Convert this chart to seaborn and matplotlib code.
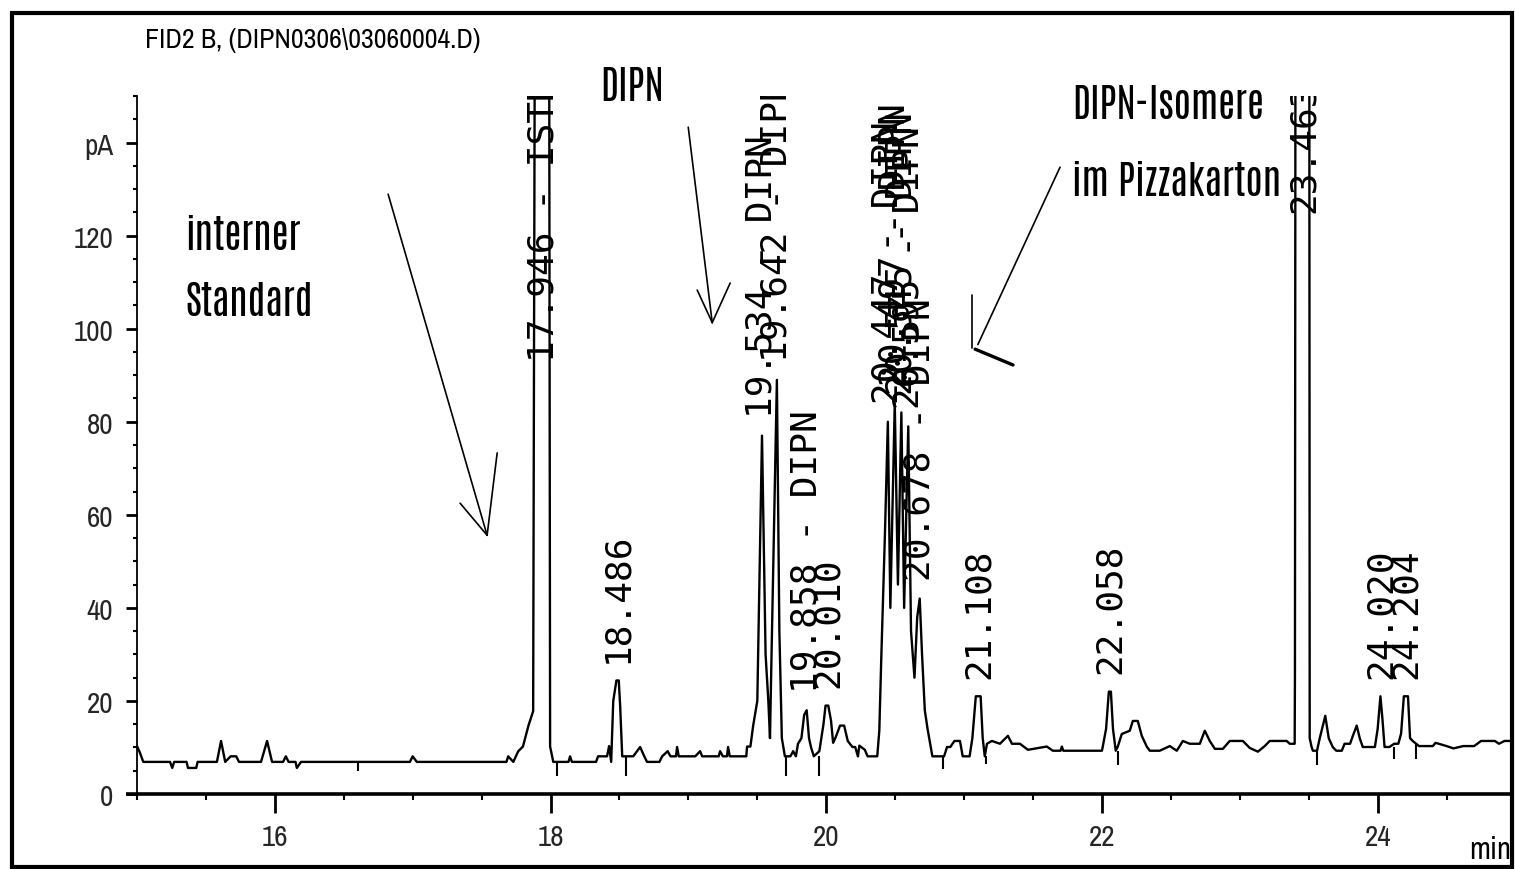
import pandas as pd
import matplotlib
matplotlib.use("Agg")
import matplotlib.pyplot as plt
import seaborn as sns
from matplotlib.patches import Rectangle
from matplotlib.ticker import MultipleLocator

# chromatogram trace, vertices (min, pA)
trace_time = [
    15.00, 15.02, 15.046, 15.24, 15.256, 15.27, 15.36, 15.37, 15.43, 15.44,
    15.58, 15.61, 15.64, 15.68, 15.72, 15.74, 15.90, 15.944, 15.98, 16.06,
    16.08, 16.10, 16.15, 16.16, 16.19, 16.98, 17.00, 17.03, 17.68, 17.693,
    17.73, 17.766, 17.80, 17.84, 17.874, 17.905, 17.94, 17.98, 17.997, 18.02,
    18.13, 18.142, 18.155, 18.33, 18.345, 18.41, 18.425, 18.44, 18.455, 18.478,
    18.495, 18.505, 18.52, 18.60, 18.65, 18.68, 18.70, 18.79, 18.81, 18.85,
    18.87, 18.91, 18.918, 18.93, 19.05, 19.085, 19.10, 19.22, 19.23, 19.25,
    19.28, 19.288, 19.30, 19.42, 19.426, 19.45, 19.47, 19.50, 19.534, 19.56,
    19.58, 19.592, 19.60, 19.642, 19.66, 19.678, 19.70, 19.74, 19.76, 19.78,
    19.795, 19.82, 19.84, 19.858, 19.875, 19.89, 19.91, 19.95, 19.98, 19.995,
    20.015, 20.035, 20.05, 20.07, 20.10, 20.13, 20.156, 20.19, 20.21, 20.23,
    20.24, 20.28, 20.30, 20.36, 20.37, 20.385, 20.40, 20.425, 20.447, 20.465,
    20.497, 20.52, 20.545, 20.565, 20.595, 20.615, 20.64, 20.66, 20.678, 20.695,
    20.715, 20.735, 20.753, 20.77, 20.855, 20.876, 20.90, 20.93, 20.97, 20.99,
    21.04, 21.06, 21.085, 21.12, 21.135, 21.15, 21.166, 21.202, 21.26, 21.318,
    21.347, 21.405, 21.463, 21.60, 21.644, 21.70, 21.709, 21.72, 22.00, 22.006,
    22.03, 22.05, 22.065, 22.08, 22.10, 22.115, 22.144, 22.202, 22.224, 22.26,
    22.289, 22.325, 22.347, 22.419, 22.492, 22.543, 22.587, 22.637, 22.71, 22.746,
    22.782, 22.819, 22.877, 22.927, 23.022, 23.072, 23.131, 23.181, 23.217, 23.34,
    23.362, 23.398, 23.40, 23.41, 23.46, 23.50, 23.507, 23.52, 23.53, 23.56,
    23.58, 23.62, 23.645, 23.674, 23.70, 23.74, 23.76, 23.80, 23.82, 23.848,
    23.87, 23.892, 23.94, 23.98, 24.00, 24.02, 24.035, 24.05, 24.085, 24.12,
    24.15, 24.17, 24.19, 24.22, 24.235, 24.254, 24.30, 24.40, 24.42, 24.50,
    24.55, 24.62, 24.70, 24.75, 24.85, 24.88, 24.92, 24.97,
]
trace_signal = [
    10.3, 9.0, 6.9, 6.9, 5.6, 6.9, 6.9, 5.6, 5.6, 6.9,
    6.9, 11.4, 6.9, 8.1, 8.1, 6.9, 6.9, 11.4, 6.9, 6.9,
    8.1, 6.9, 6.9, 5.6, 6.9, 6.9, 8.1, 6.9, 6.9, 8.1,
    6.9, 9.2, 10.2, 14.7, 17.8, 400, 500, 400, 10.2, 6.9,
    6.9, 8.1, 6.9, 6.9, 8.1, 8.1, 10.3, 6.9, 20.0, 24.4,
    24.4, 19.0, 8.1, 8.1, 10.1, 8.1, 6.9, 6.9, 8.1, 9.2,
    8.1, 8.1, 10.1, 8.1, 8.1, 9.2, 8.1, 8.1, 9.2, 8.1,
    8.1, 10.1, 8.1, 8.1, 10.2, 10.2, 14.7, 20.0, 77.0, 30.0,
    20.0, 12.0, 25.0, 89.0, 35.0, 12.0, 8.1, 8.1, 9.2, 8.1,
    10.8, 12.0, 17.0, 18.0, 12.0, 10.0, 8.1, 9.2, 15.0, 19.0,
    19.0, 15.7, 11.0, 12.3, 14.7, 14.7, 11.4, 10.1, 10.1, 8.1,
    10.4, 9.5, 8.1, 8.1, 8.1, 13.6, 30.0, 55.0, 80.0, 40.0,
    84.0, 45.0, 82.0, 40.0, 79.0, 35.0, 25.0, 38.0, 42.0, 30.0,
    18.0, 14.0, 11.0, 8.1, 8.1, 10.1, 10.1, 11.4, 11.4, 8.1,
    8.1, 12.0, 21.0, 21.0, 12.0, 8.1, 10.8, 11.4, 10.8, 12.5,
    10.8, 10.8, 9.5, 10.2, 9.3, 9.3, 10.2, 9.3, 9.3, 10.2,
    14.0, 22.0, 22.0, 14.0, 9.3, 10.2, 12.9, 13.6, 15.7, 15.7,
    12.5, 10.2, 9.3, 9.3, 10.3, 9.3, 11.4, 10.8, 10.8, 13.6,
    11.4, 9.7, 9.7, 11.4, 11.4, 9.9, 9.1, 10.3, 11.4, 11.4,
    10.8, 10.8, 25.4, 400, 500, 400, 12.0, 10.2, 9.3, 9.3,
    12.0, 16.8, 12.0, 10.1, 9.3, 9.3, 10.8, 10.8, 12.5, 14.7,
    12.0, 10.1, 10.1, 10.1, 14.0, 21.0, 16.0, 10.1, 10.1, 10.8,
    10.8, 13.0, 21.0, 21.0, 12.0, 11.4, 10.3, 10.3, 11.0, 10.3,
    9.8, 10.3, 10.3, 11.4, 11.4, 10.8, 11.4, 11.4,
]

# peak labels (retention time, text, label foot in pA)
label_times = [17.946, 18.486, 19.534, 19.642, 19.858, 20.010, 20.447, 20.497,
               20.545, 20.595, 20.678, 21.108, 22.058, 23.463, 24.020, 24.204]
label_texts = ["17.946 - ISTD", "18.486", "19.534 - DIPN", "19.642 - DIPN",
               "19.858 - DIPN", "20.010", "20.447 - DIPN", "20.497 - DIPN",
               "20.545 - DIPN", "20.595 - DIPN", "20.678 - DIPN", "21.108",
               "22.058", "23.463", "24.020", "24.204"]
label_heights = [89, 24.4, 77, 89, 18, 19, 80, 84, 82, 79, 42, 21, 22, 121, 21, 21]

# integration event marks below the baseline
event_times = [16.606, 18.048, 18.548, 19.708, 19.947, 20.847, 21.159,
               22.115, 23.558, 24.116, 24.276]
event_low = [5.0, 3.9, 3.9, 3.9, 3.9, 5.4, 6.5, 6.3, 6.3, 7.5, 7.5]
event_high = [6.9, 6.9, 8.1, 8.1, 8.1, 8.1, 8.1, 9.3, 9.3, 10.1, 10.8]

y_ticks = [0, 20, 40, 60, 80, 100, 120, 140]
y_tick_labels = ["0", "20", "40", "60", "80", "100", "120", "pA"]
x_ticks = [16, 18, 20, 22, 24]
x_tick_labels = ["16", "18", "20", "22", "24"]

NARROW = ["Archivo Narrow", "Liberation Sans Narrow", "DejaVu Sans"]
HEAVY = ["Antonio", "Archivo Narrow", "DejaVu Sans"]

sns.set_theme(style="white")
plt.rcParams["font.family"] = NARROW

df = pd.DataFrame({"time": trace_time, "signal": trace_signal})

fig = plt.figure(figsize=(15.15, 8.7), dpi=100)
ax = fig.add_axes([0.0904, 0.0862, 0.9063, 0.8023])

sns.lineplot(data=df, x="time", y="signal", estimator=None, sort=False,
             color="black", linewidth=1.7, ax=ax)
ax.vlines(event_times, event_low, event_high, colors="black", linewidth=1.5)

ax.set_xlim(15.0, 24.96)
ax.set_ylim(0, 150)
ax.set_xlabel("")
ax.set_ylabel("")

ax.set_yticks(y_ticks)
ax.set_yticklabels(y_tick_labels, fontsize=21)
ax.set_xticks(x_ticks)
ax.set_xticklabels(x_tick_labels, fontsize=21)
ax.xaxis.set_minor_locator(MultipleLocator(0.5))
ax.yaxis.set_minor_locator(MultipleLocator(5))
ax.tick_params(axis="y", which="major", direction="out", length=8, width=2,
               pad=9, left=True, color="black")
ax.tick_params(axis="y", which="minor", direction="out", length=3, width=1.5,
               left=True, color="black")
ax.tick_params(axis="x", which="major", direction="out", length=14, width=2,
               pad=7, bottom=True, color="black")
ax.tick_params(axis="x", which="minor", direction="out", length=4, width=1.5,
               bottom=True, color="black")

for side in ["top", "right", "bottom"]:
    ax.spines[side].set_visible(False)
ax.spines["left"].set_color("black")
ax.spines["left"].set_linewidth(1.3)
ax.plot([-0.008, 1.0], [0, 0], transform=ax.transAxes, color="black",
        linewidth=2.6, clip_on=False, solid_capstyle="butt")

# peak labels, rotated and clipped at the top like the data system does
for t, txt, h in zip(label_times, label_texts, label_heights):
    ax.text(t, h + 4, txt, rotation=90, ha="center", va="bottom",
            fontsize=26, family=["DejaVu Sans Mono"], color="black", clip_on=True)

# hand drawn annotations
big = dict(fontsize=28, fontweight="bold", family=HEAVY, color="black",
           clip_on=False, ha="left", va="top")
ax.text(15.35, 124.5, "interner", **big)
ax.text(15.35, 110.3, "Standard", **big)
ax.text(18.36, 156.5, "DIPN", **big)
ax.text(21.783, 152.5, "DIPN-Isomere", **big)
ax.text(21.783, 136.0, "im Pizzakarton", **big)

arrow = dict(color="black", linewidth=1.2, clip_on=False)
ax.plot([16.822, 17.540], [128.9, 55.6], **arrow)
ax.plot([17.344, 17.540], [62.5, 55.6], **arrow)
ax.plot([17.613, 17.540], [73.3, 55.6], **arrow)
ax.plot([18.999, 19.173], [143.3, 101.3], **arrow)
ax.plot([19.064, 19.173], [108.3, 101.3], **arrow)
ax.plot([19.303, 19.173], [109.8, 101.3], **arrow)
ax.plot([21.696, 21.10], [134.7, 96.6], **arrow)
ax.plot([21.06, 21.06], [107.3, 95.9], **arrow)
ax.plot([21.08, 21.355], [95.6, 92.2], color="black", linewidth=2.4)

fig.text(145 / 1515, 1 - 28 / 870, r"FID2 B, (DIPN0306\03060004.D)",
         fontsize=20, ha="left", va="top", color="black")
fig.text(1511 / 1515, 20 / 870, "min", fontsize=22, ha="right", va="center",
         color="black")

fig.add_artist(Rectangle((12 / 1515, 2 / 870), 1500 / 1515, 854 / 870,
                         transform=fig.transFigure, fill=False,
                         edgecolor="black", linewidth=3))

fig.savefig("out.png", dpi=100, facecolor="white")
